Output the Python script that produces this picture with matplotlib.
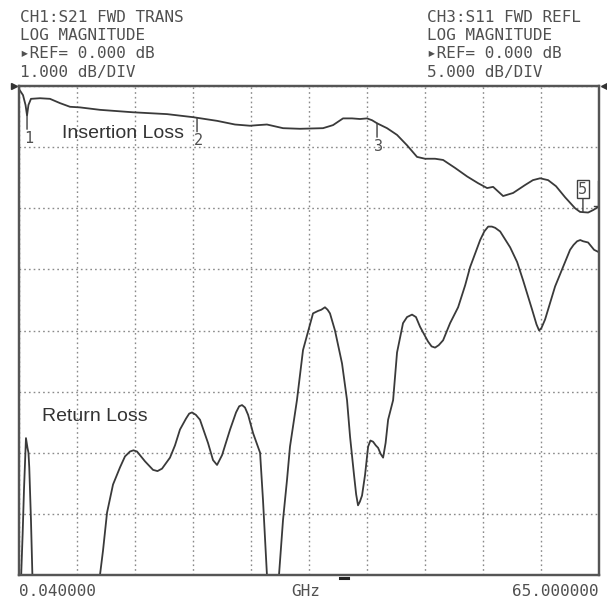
import numpy as np
import matplotlib
matplotlib.use("Agg")
import matplotlib.pyplot as plt

# ---- S21 forward transmission (insertion loss), dB ----
il_freq = [0.04, 0.49, 0.77, 0.94, 1.10, 1.38, 2.39, 3.51, 4.63, 5.75, 6.87, 9.11,
           12.81, 16.62, 19.53, 22.22, 24.23, 25.91, 26.81, 27.81, 28.71, 29.61,
           31.51, 34.09, 35.21, 36.33, 37.34, 38.23, 39.02, 39.58, 40.14, 41.26,
           42.38, 43.50, 44.62, 45.52, 46.64, 47.54, 48.88, 50.23, 51.46, 52.47,
           53.14, 54.26, 55.38, 56.72, 57.6, 58.40, 59.30, 60.19, 61.20, 62.32, 62.88,
           63.78, 64.34, 65.0]
il_db = [-0.05, -0.15, -0.31, -0.48, -0.31, -0.21, -0.20, -0.21, -0.28, -0.34, -0.35,
         -0.39, -0.43, -0.46, -0.51, -0.57, -0.63, -0.65, -0.64, -0.63, -0.66, -0.69,
         -0.70, -0.69, -0.64, -0.53, -0.53, -0.54, -0.53, -0.56, -0.61, -0.69,
         -0.80, -0.97, -1.16, -1.19, -1.19, -1.21, -1.34, -1.48, -1.59, -1.67,
         -1.65, -1.80, -1.75, -1.62, -1.54, -1.51, -1.54, -1.64, -1.82, -2.00, -2.06,
         -2.07, -2.03, -1.97]

# ---- S11 forward reflection (return loss), dB ----
rl_freq = [0.04, 0.26, 0.45, 0.60, 0.82, 0.99, 1.10, 1.19, 1.38, 1.61, 2.5, 8.5,
           9.11, 9.45, 9.90, 10.57, 11.35, 11.91, 12.47, 12.86, 13.26, 14.15, 15.05,
           15.55, 16.06, 16.95, 17.51, 18.07, 18.75, 19.10, 19.42, 19.85, 20.31,
           21.21, 21.77, 22.22, 22.78, 23.68, 24.35, 24.70, 25.02, 25.35, 25.70,
           26.26, 27.04, 27.37, 27.81, 28.3, 28.7, 29.16, 29.61, 30.06, 30.39,
           31.17, 31.85, 32.41, 32.97, 33.53, 33.90, 34.31, 34.60, 34.87, 35.43,
           36.22, 36.78, 37.12, 37.56, 37.80, 38.01, 38.22, 38.46, 38.80, 39.14,
           39.40, 39.70, 40.00, 40.26, 40.55, 40.82, 41.10, 41.38, 41.94, 42.38,
           43.05, 43.50, 44.06, 44.50, 44.96, 45.85, 46.25, 46.64, 47.05, 47.54,
           48.32, 49.22, 50.01, 50.57, 51.69, 52.15, 52.59, 53.00, 53.37, 53.93,
           55.05, 55.83, 56.50, 57.51, 58.00, 58.29, 58.55, 58.96, 60.08, 61.20,
           61.76, 62.15, 62.55, 62.90, 63.22, 63.78, 64.45, 65.0]
rl_db = [-46, -40.5, -36.6, -33.0, -28.8, -29.6, -30.0, -31.2, -35.5, -42, -47, -47,
         -40.0, -38.0, -34.9, -32.6, -31.2, -30.3, -29.9, -29.8, -29.9, -30.7, -31.4,
         -31.5, -31.3, -30.4, -29.4, -28.1, -27.2, -26.8, -26.7, -26.9, -27.3,
         -29.2, -30.6, -31.0, -30.2, -28.1, -26.7, -26.2, -26.1, -26.3, -26.9,
         -28.4, -30.0, -33.9, -40.0, -46, -46, -40.0, -35.5, -32.2, -29.5,
         -25.7, -21.6, -20.1, -18.6, -18.4, -18.3, -18.1, -18.3, -18.6, -20.0,
         -22.7, -25.7, -28.7, -31.8, -33.4, -34.3, -34.0, -33.5, -31.8, -29.5,
         -29.0, -29.1, -29.4, -29.6, -30.1, -30.4, -29.2, -27.3, -25.7, -21.8,
         -19.4, -18.9, -18.7, -18.9, -19.7, -20.9, -21.3, -21.4, -21.2, -20.8,
         -19.4, -18.1, -16.3, -14.8, -12.6, -11.9, -11.5, -11.5, -11.6, -11.9,
         -13.2, -14.4, -15.9, -18.3, -19.5, -20.0, -19.8, -19.1, -16.4, -14.4,
         -13.4, -13.0, -12.7, -12.6, -12.7, -12.8, -13.4, -13.6]

# marker frequencies on the S21 trace (GHz)
marker_labels = ["1", "2", "3"]
marker_freq = [0.94, 19.98, 40.14]
active_marker_label = "5"
active_marker_freq = 63.2

header_left = ["CH1:S21 FWD TRANS", "LOG MAGNITUDE", "\u25b8REF= 0.000 dB", "1.000 dB/DIV"]
header_right = ["CH3:S11 FWD REFL", "LOG MAGNITUDE", "\u25b8REF= 0.000 dB", "5.000 dB/DIV"]
start_label = "0.040000"
stop_label = "65.000000"
unit_label = "GHz"

f_start, f_stop = 0.04, 65.0
il_top, il_div = 0.0, 1.0
rl_top, rl_div = 0.0, 5.0
n_xdiv, n_ydiv = 10, 8

W = H = 607
fig = plt.figure(figsize=(W / 100, H / 100), dpi=100)
fig.patch.set_facecolor("white")

ax = fig.add_axes([19 / W, (H - 575) / H, 580 / W, 489 / H])
ax.set_xlim(f_start, f_stop)
ax.set_ylim(il_top - n_ydiv * il_div, il_top)
ax2 = ax.twinx()
ax2.set_ylim(rl_top - n_ydiv * rl_div, rl_top)

# graticule
ax.set_xticks(np.linspace(f_start, f_stop, n_xdiv + 1))
ax.set_yticks(np.linspace(il_top - n_ydiv * il_div, il_top, n_ydiv + 1))
ax.grid(True, color="#8a8a8a", linestyle=(0, (1.2, 2.2)), linewidth=1.0)
for a in (ax, ax2):
    a.tick_params(left=False, right=False, bottom=False, top=False,
                  labelleft=False, labelright=False, labelbottom=False)
    for s in a.spines.values():
        s.set_color("#555555")
        s.set_linewidth(1.6)
ax2.set_yticks([])

trace_kw = dict(color="#3a3a3a", linewidth=1.3, solid_joinstyle="round")
ax.plot(il_freq, il_db, **trace_kw)
ax2.plot(rl_freq, rl_db, **trace_kw)

mono = dict(family="DejaVu Sans Mono", color="#505050")
sans = dict(family=["Liberation Sans", "DejaVu Sans"], color="#333333")

# S21 markers: short tick below the trace, then the number
for lab, f in zip(marker_labels, marker_freq):
    y = np.interp(f, il_freq, il_db)
    ax.annotate("", xy=(f, y), xytext=(0, -10), textcoords="offset points",
                arrowprops=dict(arrowstyle="-", color="#404040", lw=1.0,
                                shrinkA=0, shrinkB=0))
    ax.annotate(lab, xy=(f, y), xytext=(1, -11), textcoords="offset points",
                ha="center", va="top", fontsize=11, **mono)

# active marker with boxed number above the trace
ya = np.interp(active_marker_freq, il_freq, il_db)
ax.annotate(active_marker_label, xy=(active_marker_freq, ya), xytext=(0, 11),
            textcoords="offset points", ha="center", va="bottom", fontsize=11,
            bbox=dict(boxstyle="square,pad=0.1", fc="white", ec="#404040", lw=1.0),
            arrowprops=dict(arrowstyle="-", color="#404040", lw=1.0, shrinkA=0, shrinkB=0),
            **mono)
# off-screen marker bracket at the right edge
ax.plot([64.4, 64.92, 64.92], [-1.97, -1.97, -1.55], color="#404040", lw=1.0,
        clip_on=False)

# trace labels
ax.text(4.85, -0.77, "Insertion Loss", fontsize=14, va="center", ha="left", **sans)
ax2.text(2.6, -27.0, "Return Loss", fontsize=14, va="center", ha="left", **sans)

# reference position arrows
ax.plot([-0.008], [1.0], marker=">", markersize=5, color="#333333",
        transform=ax.transAxes, clip_on=False)
ax.plot([1.009], [1.0], marker="<", markersize=5, color="#333333",
        transform=ax.transAxes, clip_on=False)

# header annotations
for i, line in enumerate(header_left):
    fig.text(20 / W, 1 - (18 + 18 * i) / H, line, fontsize=11.5, va="center",
             ha="left", **mono)
for i, line in enumerate(header_right):
    fig.text(427 / W, 1 - (18 + 18 * i) / H, line, fontsize=11.5, va="center",
             ha="left", **mono)

# frequency annotations
fig.text(19 / W, 1 - 592 / H, start_label, fontsize=11.5, va="center", ha="left", **mono)
fig.text(306 / W, 1 - 592 / H, unit_label, fontsize=11.5, va="center", ha="center", **mono)
fig.text(599 / W, 1 - 592 / H, stop_label, fontsize=11.5, va="center", ha="right", **mono)

# sweep position indicator below the graticule
fig.add_artist(plt.Line2D([340 / W, 348 / W], [1 - 578 / H, 1 - 578 / H],
                          color="#222222", linewidth=2.2))

fig.savefig("out.png", dpi=100, facecolor="white")
